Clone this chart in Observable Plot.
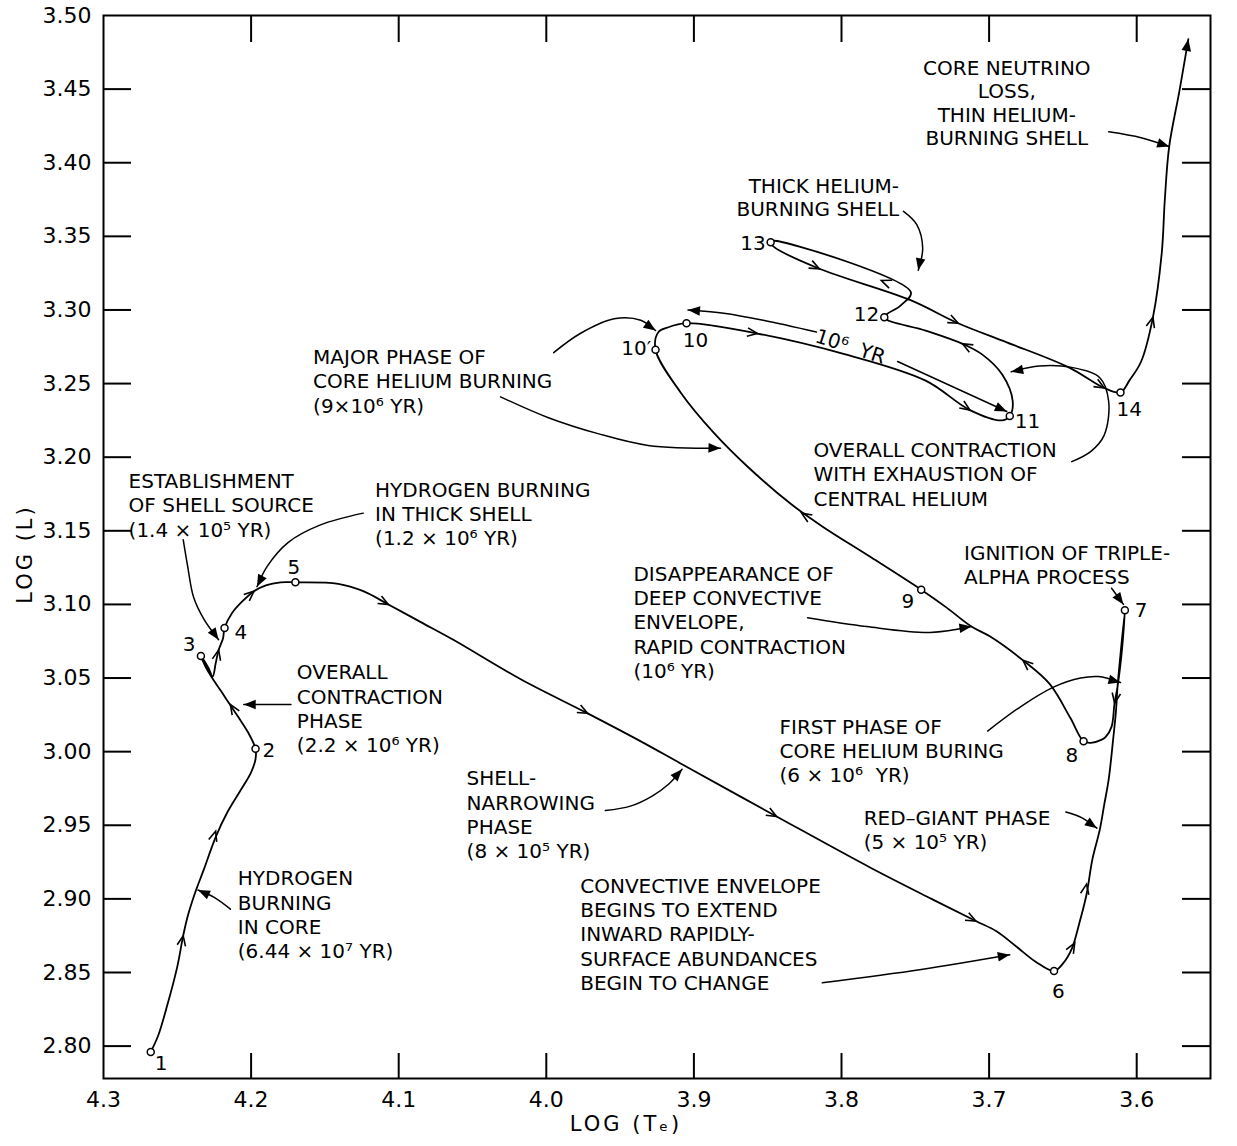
<!DOCTYPE html>
<html><head><meta charset="utf-8">
<script src="https://cdn.jsdelivr.net/npm/d3@7"></script>
<script src="https://cdn.jsdelivr.net/npm/@observablehq/plot@0.6"></script>
<style>
body{margin:0;background:#fff;}
#chart svg{display:block;}
</style></head><body><div id="chart"></div>
<script>
// ---------- axes ----------
const xDomain = [4.3, 3.55];
const yDomain = [2.778, 3.50];
const xTickLabels = [4.3, 4.2, 4.1, 4.0, 3.9, 3.8, 3.7, 3.6];
const xTicks = [4.2, 4.1, 4.0, 3.9, 3.8, 3.7, 3.6];
const yTickLabels = [2.80, 2.85, 2.90, 2.95, 3.00, 3.05, 3.10, 3.15, 3.20, 3.25, 3.30, 3.35, 3.40, 3.45, 3.50];
const yTicks = [2.80, 2.85, 2.90, 2.95, 3.00, 3.05, 3.10, 3.15, 3.20, 3.25, 3.30, 3.35, 3.40, 3.45];
const xTitle = "LOG (Tₑ)";
const yTitle = "LOG (L)";

// ---------- evolutionary track (log Te, log L) ----------
const seg1to2 = [[4.268,2.796],[4.263,2.807],[4.257,2.827],[4.250,2.854],[4.246,2.875],[4.243,2.888],[4.238,2.904],[4.232,2.920],[4.224,2.942],[4.216,2.959],[4.207,2.974],[4.200,2.986],[4.197,2.995],[4.197,3.002]];
const seg2to3 = [[4.197,3.002],[4.202,3.013],[4.209,3.024],[4.221,3.042],[4.227,3.051],[4.231,3.058],[4.234,3.065]];
const seg3to4 = [[4.234,3.065],[4.229,3.057],[4.226,3.051],[4.224,3.060],[4.222,3.069],[4.219,3.077],[4.218,3.084]];
const seg4to5 = [[4.218,3.084],[4.213,3.094],[4.206,3.102],[4.198,3.109],[4.190,3.113],[4.180,3.115],[4.170,3.115]];
const seg5to6 = [[4.170,3.115],[4.141,3.114],[4.124,3.109],[4.107,3.100],[4.085,3.088],[4.063,3.076],[4.017,3.049],[3.972,3.026],[3.936,3.007],[3.909,2.992],[3.844,2.956],[3.780,2.921],[3.739,2.900],[3.709,2.885],[3.695,2.878],[3.682,2.868],[3.668,2.857],[3.656,2.851]];
const seg6to7 = [[3.656,2.851],[3.650,2.856],[3.644,2.866],[3.639,2.883],[3.634,2.903],[3.630,2.927],[3.625,2.947],[3.622,2.964],[3.619,2.981],[3.616,3.008],[3.614,3.028],[3.613,3.044],[3.611,3.066],[3.608,3.096]];
const seg7to8 = [[3.608,3.096],[3.610,3.069],[3.613,3.044],[3.615,3.033],[3.617,3.017],[3.621,3.010],[3.624,3.008],[3.631,3.006],[3.636,3.007]];
const seg8to9 = [[3.636,3.007],[3.645,3.023],[3.659,3.046],[3.677,3.062],[3.699,3.078],[3.712,3.085],[3.729,3.098],[3.746,3.110]];
const seg9to10p = [[3.746,3.110],[3.780,3.132],[3.813,3.153],[3.834,3.168],[3.863,3.193],[3.886,3.216],[3.909,3.244],[3.926,3.273]];
const seg10pto10 = [[3.926,3.273],[3.924,3.285],[3.918,3.288],[3.905,3.291]];
const seg10to11 = [[3.905,3.291],[3.857,3.284],[3.798,3.270],[3.743,3.252],[3.713,3.232],[3.691,3.225],[3.686,3.228]];
const seg11to12 = [[3.686,3.228],[3.684,3.238],[3.691,3.256],[3.705,3.270],[3.718,3.277],[3.743,3.286],[3.771,3.295]];
const seg12to13 = [[3.771,3.295],[3.760,3.303],[3.753,3.312],[3.846,3.347],[3.848,3.346]];
const seg13to14 = [[3.848,3.346],[3.846,3.343],[3.815,3.328],[3.754,3.307],[3.721,3.291],[3.688,3.278],[3.646,3.261],[3.622,3.247],[3.611,3.244]];
const seg14toEnd = [[3.611,3.244],[3.605,3.252],[3.597,3.265],[3.589,3.295],[3.583,3.339],[3.581,3.374],[3.578,3.411],[3.571,3.449],[3.565,3.484]];

// direction arrows on the track: [from x, from y, tip x, tip y]
const trackArrows = [
  [4.250,2.854,4.246,2.875],[4.232,2.920,4.224,2.946],[4.209,3.024,4.214,3.032],[4.224,3.060,4.222,3.069],
  [4.206,3.102,4.198,3.109],[4.124,3.109,4.107,3.100],[4.017,3.049,3.972,3.026],[3.909,2.992,3.844,2.956],
  [3.780,2.921,3.709,2.885],[3.650,2.856,3.642,2.870],[3.639,2.883,3.634,2.910],[3.613,3.044,3.615,3.033],
  [3.659,3.046,3.677,3.062],[3.813,3.153,3.827,3.162],[3.905,3.291,3.857,3.284],[3.743,3.252,3.713,3.232],
  [3.705,3.270,3.718,3.277],[3.753,3.312,3.773,3.320],[3.846,3.343,3.815,3.328],[3.754,3.307,3.721,3.291],
  [3.646,3.261,3.622,3.247],[3.597,3.265,3.589,3.295]
];
const trackEnd = [3.571,3.449,3.565,3.484];

// numbered stages
const stageNames = ["1","2","3","4","5","6","7","8","9","10′","10","11","12","13","14"];
const stageX = [4.268,4.197,4.234,4.218,4.170,3.656,3.608,3.636,3.746,3.926,3.905,3.686,3.771,3.848,3.611];
const stageY = [2.796,3.002,3.065,3.084,3.115,2.851,3.096,3.007,3.110,3.273,3.291,3.228,3.295,3.346,3.244];
const stageLabelX = [4.261,4.188,4.242,4.207,4.171,3.653,3.597,3.644,3.755,3.939,3.899,3.674,3.783,3.860,3.605];
const stageLabelY = [2.788,3.001,3.073,3.081,3.125,2.837,3.096,2.997,3.102,3.274,3.279,3.224,3.297,3.345,3.232];

// annotation pointer curves
const annNeutrino = [[3.619,3.421],[3.597,3.417],[3.578,3.411]];
const annThickShell = [[3.758,3.367],[3.749,3.358],[3.745,3.342],[3.748,3.327]];
const annMajorUpper = [[3.995,3.271],[3.977,3.284],[3.954,3.294],[3.936,3.293],[3.926,3.286]];
const annMajorLower = [[4.031,3.241],[3.999,3.227],[3.965,3.216],[3.931,3.208],[3.882,3.206]];
const annYrLeft = [[3.817,3.285],[3.853,3.293],[3.881,3.298],[3.904,3.300]];
const annYrRight = [[3.762,3.265],[3.688,3.231]];
const annExhaustion = [[3.644,3.197],[3.631,3.204],[3.622,3.215],[3.619,3.238],[3.625,3.254],[3.644,3.261],[3.666,3.262],[3.685,3.258]];
const annEstablish = [[4.246,3.144],[4.243,3.126],[4.239,3.105],[4.232,3.090],[4.222,3.076]];
const annThickH = [[4.124,3.162],[4.153,3.154],[4.175,3.142],[4.189,3.126],[4.196,3.112]];
const annContraction = [[4.173,3.032],[4.205,3.032]];
const annCore = [[4.214,2.893],[4.225,2.901],[4.236,2.906]];
const annNarrowing = [[3.960,2.960],[3.943,2.963],[3.928,2.970],[3.917,2.978],[3.908,2.988]];
const annConvective = [[3.813,2.843],[3.746,2.852],[3.686,2.862]];
const annRedGiant = [[3.648,2.959],[3.637,2.955],[3.627,2.948]];
const annFirstPhase = [[3.701,3.014],[3.678,3.031],[3.656,3.044],[3.638,3.050],[3.626,3.051],[3.611,3.047]];
const annDisappear = [[3.823,3.091],[3.783,3.085],[3.740,3.081],[3.712,3.085]];
const annIgnition = [[3.617,3.111],[3.609,3.100]];

// annotation texts
const noteText = [
  "MAJOR PHASE OF\nCORE HELIUM BURNING\n(9×10⁶ YR)",
  "ESTABLISHMENT\nOF SHELL SOURCE\n(1.4 × 10⁵ YR)",
  "HYDROGEN BURNING\nIN THICK SHELL\n(1.2 × 10⁶ YR)",
  "OVERALL\nCONTRACTION\nPHASE\n(2.2 × 10⁶ YR)",
  "HYDROGEN\nBURNING\nIN CORE\n(6.44 × 10⁷ YR)",
  "SHELL-\nNARROWING\nPHASE\n(8 × 10⁵ YR)",
  "CONVECTIVE ENVELOPE\nBEGINS TO EXTEND\nINWARD RAPIDLY-\nSURFACE ABUNDANCES\nBEGIN TO CHANGE",
  "RED–GIANT PHASE\n(5 × 10⁵ YR)",
  "FIRST PHASE OF\nCORE HELIUM BURING\n(6 × 10⁶  YR)",
  "DISAPPEARANCE OF\nDEEP CONVECTIVE\nENVELOPE,\nRAPID CONTRACTION\n(10⁶ YR)",
  "IGNITION OF TRIPLE-\nALPHA PROCESS",
  "OVERALL CONTRACTION\nWITH EXHAUSTION OF\nCENTRAL HELIUM"
];
const noteX = [4.158,4.283,4.116,4.169,4.209,4.054,3.977,3.785,3.842,3.941,3.717,3.819];
const noteY = [3.275,3.191,3.185,3.061,2.921,2.989,2.916,2.962,3.024,3.128,3.142,3.212];
const centeredNote = {text: "CORE NEUTRINO\nLOSS,\nTHIN HELIUM-\nBURNING SHELL", x: 3.688, y: 3.471};
const rightNote = {text: "THICK HELIUM-\nBURNING SHELL", x: 3.761, y: 3.390};
const durationNote = {text: "10⁶  YR", x: 3.794, y: 3.275};

// ---------- layout ----------
const WIDTH = 1237, HEIGHT = 1146, ML = 103, MR = 27, MT = 15, MB = 68;
const W = WIDTH - ML - MR, H = HEIGHT - MT - MB;
const sx = Plot.scale({x: {domain: xDomain, range: [ML, WIDTH - MR]}});
const sy = Plot.scale({y: {domain: yDomain, range: [HEIGHT - MB, MT]}});
const screenAngle = (x1, y1, x2, y2) =>
  Math.atan2(sy.apply(y2) - sy.apply(y1), sx.apply(x2) - sx.apply(x1)) * 180 / Math.PI + 90;

const track = [seg1to2, seg2to3, seg3to4, seg4to5, seg5to6, seg6to7, seg7to8, seg8to9, seg9to10p,
  seg10pto10, seg10to11, seg11to12, seg12to13, seg13to14, seg14toEnd]
  .flatMap((s, i) => (i === 0 ? s : s.slice(1)));

const annPaths = [annNeutrino, annThickShell, annMajorUpper, annMajorLower, annYrLeft, annYrRight,
  annExhaustion, annEstablish, annThickH, annContraction, annCore, annNarrowing, annConvective,
  annRedGiant, annFirstPhase, annDisappear, annIgnition];
const annLines = annPaths.flatMap((p, i) => p.map(([x, y]) => ({x, y, id: i})));
const annHeads = annPaths.map(p => {
  const [a, b] = p.slice(-2);
  return {x: b[0], y: b[1], rotate: screenAngle(a[0], a[1], b[0], b[1])};
});
annHeads.push({x: trackEnd[2], y: trackEnd[3], rotate: screenAngle(...trackEnd)});

const chevrons = trackArrows.map(([x1, y1, x2, y2]) => ({x: x2, y: y2, rotate: screenAngle(x1, y1, x2, y2)}));
const stages = stageNames.map((name, i) => ({name, x: stageX[i], y: stageY[i], lx: stageLabelX[i], ly: stageLabelY[i]}));
const notes = noteText.map((text, i) => ({text, x: noteX[i], y: noteY[i]}));

// custom symbols: open chevron and filled wedge, tip at origin pointing up
const chevron = {draw(ctx, size) { const r = Math.sqrt(size / Math.PI); ctx.moveTo(-0.42 * r, r); ctx.lineTo(0, 0); ctx.lineTo(0.42 * r, r); }};
const wedge = {draw(ctx, size) { const r = Math.sqrt(size / Math.PI); ctx.moveTo(0, 0); ctx.lineTo(-0.4 * r, r); ctx.lineTo(0.4 * r, r); ctx.closePath(); }};

const chart = Plot.plot({
  width: WIDTH, height: HEIGHT,
  marginLeft: ML, marginRight: MR, marginTop: MT, marginBottom: MB,
  x: {domain: xDomain},
  y: {domain: yDomain},
  style: {fontFamily: "'DejaVu Sans', sans-serif", fontSize: "20px", color: "#000", background: "#fff"},
  marks: [
    Plot.frame({strokeWidth: 2}),
    Plot.ruleY(yTicks, {insetRight: W - 28, strokeWidth: 2}),
    Plot.ruleY(yTicks, {insetLeft: W - 28, strokeWidth: 2}),
    Plot.ruleX(xTicks, {insetTop: H - 25, strokeWidth: 2}),
    Plot.ruleX(xTicks, {insetBottom: H - 27, strokeWidth: 2}),
    Plot.axisX(xTickLabels, {tickSize: 0, tickPadding: 13, tickFormat: d => d.toFixed(1), fontSize: 22, label: null}),
    Plot.axisY(yTickLabels, {tickSize: 0, tickPadding: 12, tickFormat: d => d.toFixed(2), fontSize: 22, label: null}),
    Plot.text([yTitle], {frameAnchor: "left", textAnchor: "middle", rotate: -90, dx: -78, dy: 7, fontSize: 21, text: d => d}),
    Plot.text([xTitle], {frameAnchor: "bottom", textAnchor: "middle", dy: 52, dx: -31, fontSize: 21, text: d => d}),
    // track
    Plot.line(track, {x: d => d[0], y: d => d[1], curve: "catmull-rom", strokeWidth: 1.8}),
    Plot.dot(chevrons, {x: "x", y: "y", rotate: "rotate", symbol: chevron, r: 10, fill: "none", stroke: "black", strokeWidth: 1.6}),
    // annotation pointers
    Plot.line(annLines, {x: "x", y: "y", z: "id", curve: "catmull-rom", strokeWidth: 1.5}),
    Plot.dot(annHeads, {x: "x", y: "y", rotate: "rotate", symbol: wedge, r: 12, fill: "black", stroke: "none"}),
    // stages
    Plot.dot(stages, {x: "x", y: "y", r: 3.5, fill: "white", stroke: "black", strokeWidth: 1.5}),
    Plot.text(stages, {x: "lx", y: "ly", text: "name", fontSize: 20}),
    // notes
    Plot.text(notes, {x: "x", y: "y", text: "text", textAnchor: "start", lineAnchor: "top", lineHeight: 1.22, fontSize: 20}),
    Plot.text([centeredNote], {x: "x", y: "y", text: "text", textAnchor: "middle", lineAnchor: "top", lineHeight: 1.17, fontSize: 20}),
    Plot.text([rightNote], {x: "x", y: "y", text: "text", textAnchor: "end", lineAnchor: "top", lineHeight: 1.12, fontSize: 20}),
    Plot.text([durationNote], {x: "x", y: "y", text: "text", rotate: 18, fontSize: 20})
  ]
});
// wide letter spacing for the axis titles, as in the original lettering
d3.select(chart).selectAll("text").filter(function() { return this.textContent === yTitle || this.textContent === xTitle; })
  .style("letter-spacing", "3px");
document.getElementById("chart").appendChild(chart);
</script>
</body></html>
